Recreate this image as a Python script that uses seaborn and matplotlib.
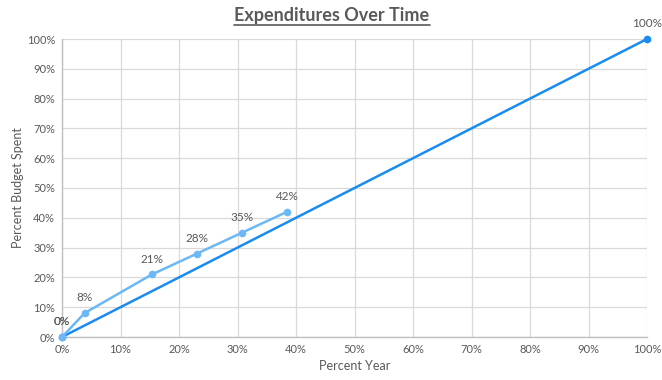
import matplotlib
matplotlib.use("Agg")
import matplotlib.pyplot as plt
import seaborn as sns
import pandas as pd
from matplotlib.lines import Line2D

# data
plan_x = [0, 100]
plan_y = [0, 100]
actual_x = [0, 3.85, 15.38, 23.08, 30.77, 38.46]
actual_y = [0, 8, 21, 28, 35, 42]
ticks = list(range(0, 101, 10))

sns.set_style("white")
plt.rcParams['font.family'] = ['Lato', 'DejaVu Sans']
gray = "#595959"

fig = plt.figure(figsize=(6.62, 3.8), dpi=100)
ax = fig.add_axes([62/662, 43/380, 585/662, 298/380])

plan = pd.DataFrame({'x': plan_x, 'y': plan_y})
actual = pd.DataFrame({'x': actual_x, 'y': actual_y})

sns.lineplot(data=plan, x='x', y='y', ax=ax, color="#1A8CF0", lw=1.8,
             marker='o', markersize=5.5, markeredgewidth=0, clip_on=False, zorder=3)
sns.lineplot(data=actual, x='x', y='y', ax=ax, color="#6BB8F5", lw=1.8,
             marker='o', markersize=5.5, markeredgewidth=0, clip_on=False, zorder=4)

for xs, ys in [(plan_x, plan_y), (actual_x, actual_y)]:
    for x, y in zip(xs, ys):
        ax.annotate(f"{y}%", (x, y), xytext=(0, 7), textcoords='offset points',
                    ha='center', va='bottom', fontsize=8.5, color=gray,
                    annotation_clip=False)

ax.set_xlim(0, 100)
ax.set_ylim(0, 100)
ax.set_xticks(ticks)
ax.set_yticks(ticks)
ax.set_xticklabels([f"{t}%" for t in ticks])
ax.set_yticklabels([f"{t}%" for t in ticks])
ax.tick_params(labelsize=8, colors=gray, length=0, pad=5)
ax.grid(True, color="#D9D9D9", lw=0.9)
for s in ['top', 'right']:
    ax.spines[s].set_visible(False)
for s in ['left', 'bottom']:
    ax.spines[s].set_color("#BFBFBF")
    ax.spines[s].set_linewidth(1)
ax.set_xlabel("Percent Year", fontsize=9, color=gray, labelpad=4)
ax.set_ylabel("Percent Budget Spent", fontsize=9, color=gray, labelpad=2)

title = fig.text(332/662, 1 - 15/380, "Expenditures Over Time", ha='center', va='center',
                 fontsize=13, fontweight='bold', color=gray)
fig.canvas.draw()
bb = title.get_window_extent().transformed(fig.transFigure.inverted())
fig.add_artist(Line2D([bb.x0, bb.x1], [bb.y0 - 0.004, bb.y0 - 0.004], color=gray, lw=1.2,
                      transform=fig.transFigure))

fig.savefig("out.png", dpi=100)
